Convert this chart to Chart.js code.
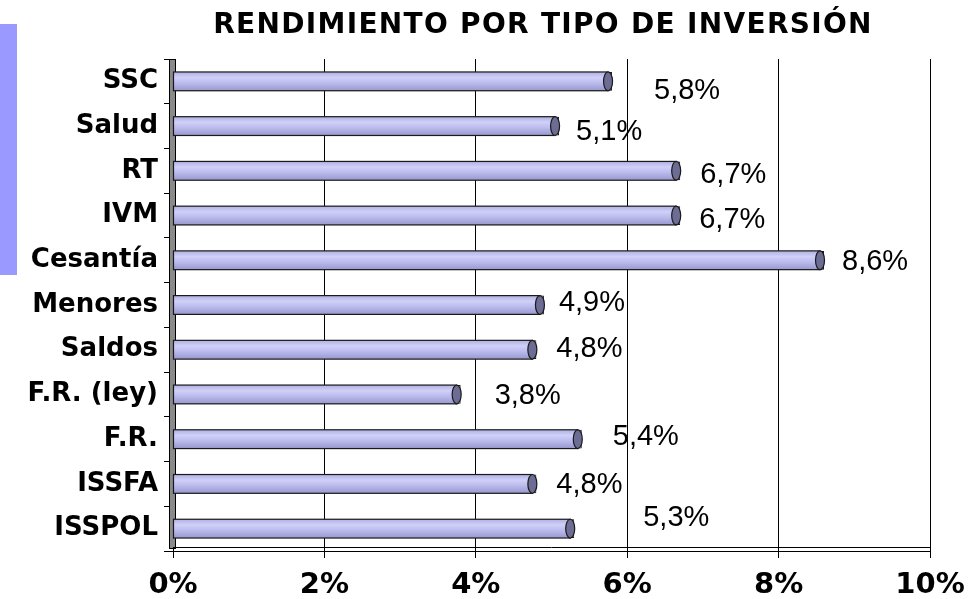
<!DOCTYPE html>
<html>
<head>
<meta charset="utf-8">
<script src="https://cdn.jsdelivr.net/npm/chart.js@4.4.1/dist/chart.umd.min.js"></script>
<style>
  html, body { margin: 0; padding: 0; background: #fff; }
  canvas { display: block; }
</style>
</head>
<body>
<canvas id="chart1" width="971" height="599"></canvas>
<script>
// datos
var categorias = ['SSC', 'Salud', 'RT', 'IVM', 'Cesantía', 'Menores', 'Saldos', 'F.R. (ley)', 'F.R.', 'ISSFA', 'ISSPOL'];
var rendimiento = [5.8, 5.1, 6.7, 6.7, 8.6, 4.9, 4.8, 3.8, 5.4, 4.8, 5.3];
var ejeX = [0, 2, 4, 6, 8, 10];
var titulo = 'RENDIMIENTO POR TIPO DE INVERSIÓN';

// desplazamiento de cada etiqueta respecto al final de la barra (px)
var nudge = [[42, 10], [17, 6], [20, 4], [19, 4], [18, 2], [15, -2], [20, -1], [34, 2], [31, -2], [20, 1], [69, -11]];

var decoPlugin = {
    id: 'deco',
    beforeDraw: function (chart) {
        var ctx = chart.ctx;
        ctx.save();
        ctx.fillStyle = '#ffffff';
        ctx.fillRect(0, 0, chart.width, chart.height);
        ctx.fillStyle = '#9999ff';
        ctx.fillRect(0, 24, 17, 251);
        ctx.restore();
    },
    beforeDatasetsDraw: function (chart) {
        var ctx = chart.ctx, a = chart.chartArea;
        ctx.save();
        // pared izquierda
        ctx.fillStyle = '#8a8a8a';
        ctx.strokeStyle = '#000';
        ctx.lineWidth = 1;
        ctx.fillRect(a.left - 3, a.top, 6, a.bottom - a.top - 3);
        ctx.strokeRect(a.left - 3.5, a.top + 0.5, 6, a.bottom - a.top - 3);
        // piso
        ctx.beginPath();
        ctx.moveTo(a.left, a.bottom - 3.5);
        ctx.lineTo(a.right, a.bottom - 3.5);
        ctx.stroke();
        ctx.restore();
    },
    afterDatasetsDraw: function (chart) {
        var ctx = chart.ctx;
        var meta = chart.getDatasetMeta(0);
        ctx.save();
        meta.data.forEach(function (el, i) {
            var p = el.getProps(['x', 'y', 'base', 'height'], true);
            var h = p.height, top = p.y - h / 2;
            var g = ctx.createLinearGradient(0, top, 0, top + h);
            g.addColorStop(0, '#b0b0e4');
            g.addColorStop(0.3, '#d0d0f8');
            g.addColorStop(0.55, '#bebef0');
            g.addColorStop(1, '#9898ce');
            ctx.fillStyle = g;
            ctx.fillRect(p.base, top, p.x - p.base - 4, h);
            ctx.strokeStyle = '#1a1a1a';
            ctx.lineWidth = 1.2;
            ctx.strokeRect(p.base, top, p.x - p.base - 4, h);
            // tapa del cilindro
            ctx.beginPath();
            ctx.ellipse(p.x - 4, p.y, 4.5, h / 2, 0, 0, Math.PI * 2);
            ctx.fillStyle = '#6c6c94';
            ctx.fill();
            ctx.stroke();
            // etiqueta
            var txt = rendimiento[i].toFixed(1).replace('.', ',') + '%';
            ctx.fillStyle = '#000';
            ctx.font = '29px "Liberation Sans", Arial, sans-serif';
            ctx.textAlign = 'left';
            ctx.textBaseline = 'middle';
            ctx.fillText(txt, p.x + nudge[i][0], p.y + nudge[i][1]);
        });
        ctx.restore();
    },
    afterDraw: function (chart) {
        var ctx = chart.ctx;
        ctx.save();
        ctx.fillStyle = '#000';
        ctx.font = 'bold 28px "DejaVu Sans", Verdana, sans-serif';
        ctx.letterSpacing = '1.3px';
        ctx.textAlign = 'center';
        ctx.textBaseline = 'alphabetic';
        ctx.fillText(titulo, 543, 33);
        ctx.restore();
    }
};

var ctx = document.getElementById('chart1');
var chart = new Chart(ctx, {
    type: 'bar',
    data: {
        labels: categorias,
        datasets: [{
            label: 'Rendimiento',
            data: rendimiento,
            backgroundColor: '#c0c0f2',
            borderColor: '#1a1a1a',
            borderWidth: 1,
            barPercentage: 0.42,
            categoryPercentage: 1
        }]
    },
    options: {
        indexAxis: 'y',
        responsive: false,
        animation: false,
        devicePixelRatio: 1,
        layout: { padding: { top: 59, right: 41, bottom: 0, left: 0 } },
        plugins: {
            legend: { display: false },
            tooltip: { enabled: false },
            title: { display: false }
        },
        scales: {
            x: {
                min: 0,
                max: 10,
                afterBuildTicks: function (scale) {
                    scale.ticks = ejeX.map(function (v) { return { value: v }; });
                },
                afterFit: function (scale) {
                    scale.height = 48;
                    scale.paddingLeft = 0;
                    scale.paddingRight = 0;
                },
                grid: { color: '#000', lineWidth: 1, tickLength: 7 },
                border: { display: true, color: '#000' },
                ticks: {
                    color: '#000',
                    padding: 10,
                    maxRotation: 0,
                    font: { family: 'DejaVu Sans', size: 29, weight: 'bold' },
                    callback: function (v) { return v + '%'; }
                }
            },
            y: {
                afterFit: function (scale) { scale.width = 173; },
                grid: { drawOnChartArea: false, color: '#000', tickLength: 9, offset: true },
                border: { display: true, color: '#000' },
                ticks: {
                    color: '#000',
                    padding: 6,
                    font: { family: 'DejaVu Sans', size: 26, weight: 'bold' }
                }
            }
        }
    },
    plugins: [decoPlugin]
});
</script>
</body>
</html>
